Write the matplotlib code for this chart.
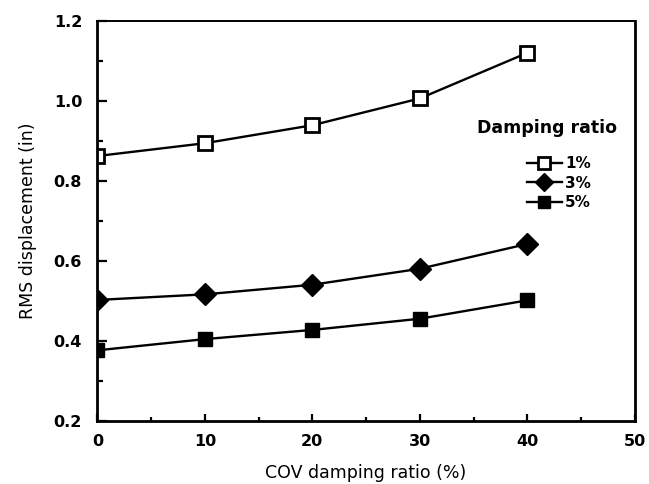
import matplotlib
matplotlib.use("Agg")
import matplotlib.pyplot as plt
from matplotlib.ticker import MultipleLocator, FormatStrFormatter

# COV of damping ratio (%)
cov = [0, 10, 20, 30, 40]

# RMS displacement (in) for each nominal damping ratio
rms_1pct = [0.863, 0.895, 0.940, 1.007, 1.121]
rms_3pct = [0.503, 0.517, 0.541, 0.581, 0.643]
rms_5pct = [0.377, 0.405, 0.428, 0.456, 0.502]

series_labels = ["1%", "3%", "5%"]

plt.rcParams['font.family'] = ['DejaVu Sans']

fig = plt.figure(figsize=(6.49, 4.84), dpi=100)
ax = fig.add_axes([0.150, 0.130, 0.828, 0.826])

ax.plot(cov, rms_1pct, color='black', lw=1.7, marker='s', ms=10,
        mfc='white', mec='black', mew=2, label=series_labels[0])
ax.plot(cov, rms_3pct, color='black', lw=1.7, marker='D', ms=11,
        mfc='black', mec='black', label=series_labels[1])
ax.plot(cov, rms_5pct, color='black', lw=1.7, marker='s', ms=10,
        mfc='black', mec='black', label=series_labels[2])

ax.set_xlim(0, 50)
ax.set_ylim(0.2, 1.2)
ax.xaxis.set_major_locator(MultipleLocator(10))
ax.xaxis.set_minor_locator(MultipleLocator(5))
ax.yaxis.set_major_locator(MultipleLocator(0.2))
ax.yaxis.set_minor_locator(MultipleLocator(0.1))
ax.yaxis.set_major_formatter(FormatStrFormatter('%.1f'))

ax.tick_params(which='both', direction='in', top=False, right=False, width=1.6)
ax.tick_params(axis='y', which='major', length=7, pad=11)
ax.tick_params(axis='y', which='minor', length=4)
ax.tick_params(axis='x', which='major', length=5, pad=9)
ax.tick_params(axis='x', which='minor', length=3)

for lbl in ax.get_xticklabels() + ax.get_yticklabels():
    lbl.set_fontweight('bold')
    lbl.set_fontsize(11.5)

for side in ['left', 'bottom', 'right']:
    ax.spines[side].set_linewidth(2)
ax.spines['top'].set_linewidth(1.4)

ax.set_xlabel('COV damping ratio (%)', fontsize=12.5, labelpad=11)
ax.set_ylabel('RMS displacement (in)', fontsize=12.5, labelpad=12)

# legend title placed as separate text (larger gap above entries)
ax.text(0.836, 0.7325, 'Damping ratio', transform=ax.transAxes,
        ha='center', va='center', fontsize=12.5, fontweight='bold')

leg = ax.legend(loc='upper right', bbox_to_anchor=(0.944, 0.6975),
                frameon=False, fontsize=11, handlelength=2.3,
                handletextpad=0.2, labelspacing=0.3, markerscale=0.8)
for t in leg.get_texts():
    t.set_fontweight('bold')

fig.savefig('out.png', dpi=100)
